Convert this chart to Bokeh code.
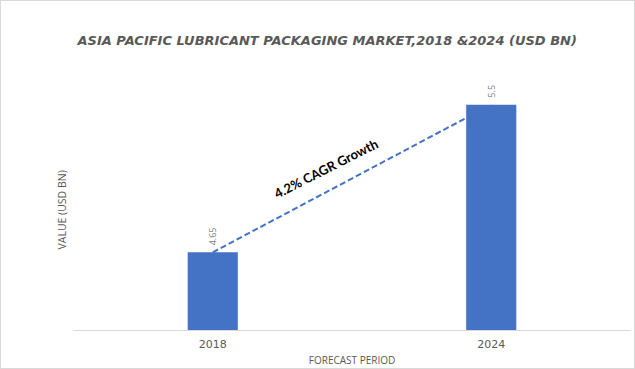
import math
from bokeh.plotting import figure
from bokeh.models import FactorRange, Range1d, Title, ColumnDataSource
from bokeh.core.properties import value
from bokeh.embed import file_html
from bokeh.resources import INLINE

# ---- data ----
years = ["2018", "2024"]
market_values = [4.65, 5.5]
value_labels = ["4.65", "5.5"]
cagr_text = "4.2% CAGR Growth"
title_text = "ASIA PACIFIC LUBRICANT PACKAGING MARKET,2018 &2024 (USD BN)"
x_title = "FORECAST PERIOD"
y_title = "VALUE (USD BN)"

BAR = "#4472C4"
GREY = "#595959"

src = ColumnDataSource(dict(year=years, val=market_values, lab=value_labels))

p = figure(
    width=635, height=369,
    x_range=FactorRange(*years, range_padding=0, factor_padding=0),
    y_range=Range1d(4.2, 5.8),
    output_backend="svg", toolbar_location=None,
    min_border_left=72, min_border_right=6, min_border_top=51, min_border_bottom=40,
)
p.outline_line_color = None
p.xgrid.visible = False
p.ygrid.visible = False
p.background_fill_color = "white"
p.border_fill_color = "white"
p.styles = {"border": "1px solid #d9d9d9", "box-sizing": "border-box"}

# title
p.title.text = title_text
p.title.text_font = "DejaVu Sans"
p.title.text_font_style = "bold italic"
p.title.text_font_size = "13px"
p.title.text_color = GREY
p.title.align = "left"
p.title.offset = 4

# y axis title (vertical, on the left side)
p.add_layout(Title(text=y_title, align="left", offset=81,
                   text_font="Open Sans", text_font_style="normal",
                   text_font_size="10.5px", text_color=GREY), "left")

# dashed growth line (behind bars)
p.line(x="year", y="val", source=src, line_color=BAR, line_width=2, line_dash="6 3")

# bars
p.vbar(x="year", top="val", width=0.18, source=src, fill_color=BAR, line_color=None)

# value labels (rotated)
p.text(x="year", y="val", text="lab", source=src, angle=math.pi / 2,
       text_align="left", text_baseline="middle", y_offset=-7,
       text_font=value("Open Sans"), text_font_size="9px", text_color="#808080")

# CAGR annotation at the midpoint of the growth line
mid_x = [1.0]
mid_y = [sum(market_values) / len(market_values)]
p.text(x=mid_x, y=mid_y, text=[cagr_text], angle=0.47,
       text_align="center", text_baseline="middle", x_offset=-26, y_offset=-10,
       text_font=value("Lato"), text_font_style="bold", text_font_size="13px",
       text_color="black")

# axes
p.yaxis.visible = False
xa = p.xaxis[0]
xa.major_tick_line_color = None
xa.minor_tick_line_color = None
xa.axis_line_color = "#d9d9d9"
xa.axis_line_width = 1
xa.major_label_text_font = "DejaVu Sans"
xa.major_label_text_font_size = "11px"
xa.major_label_text_color = GREY
xa.major_label_standoff = 3
xa.axis_label = x_title
xa.axis_label_text_font = "Open Sans"
xa.axis_label_text_font_style = "normal"
xa.axis_label_text_font_size = "10px"
xa.axis_label_text_color = GREY
xa.axis_label_standoff = 2

open("out.html", "w").write(file_html(p, INLINE))
